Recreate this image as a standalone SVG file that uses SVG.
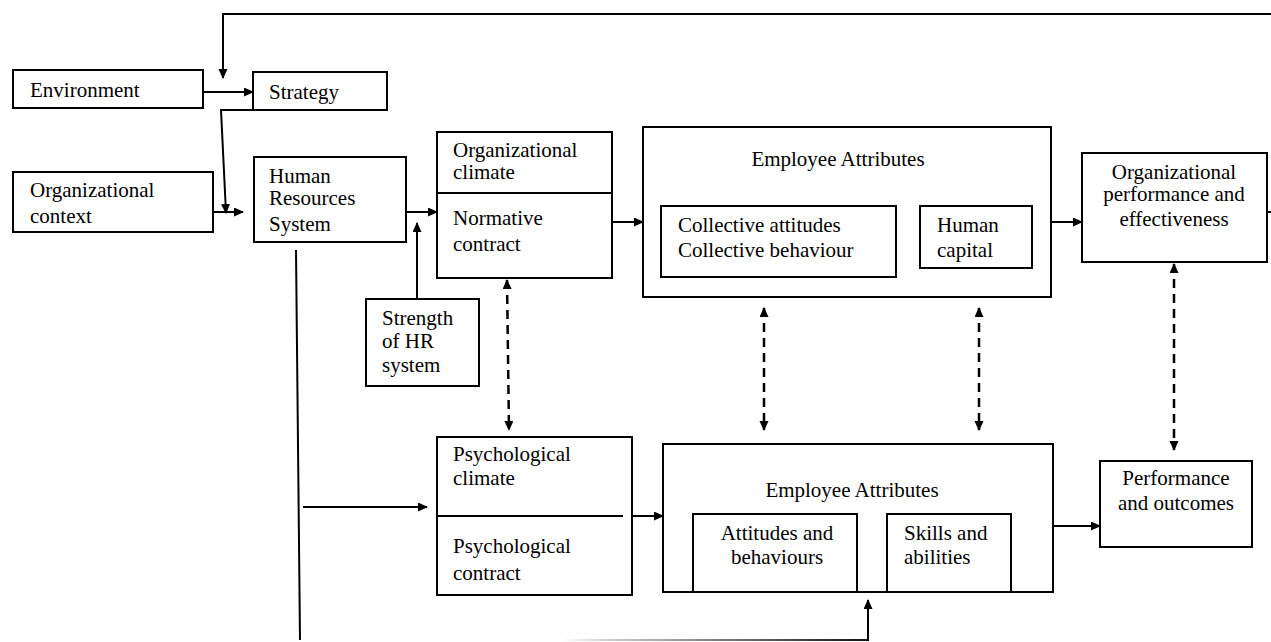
<svg xmlns="http://www.w3.org/2000/svg" width="1271" height="642" viewBox="0 0 1271 642">
  <style>
    .box { fill: #fff; stroke: #000; stroke-width: 2; }
    .t { font-family: "Liberation Serif", "Times New Roman", serif; font-size: 21px; fill: #000; }
    .mid { text-anchor: middle; }
    .ln { fill: none; stroke: #000; stroke-width: 2; }
    .arr { fill: none; stroke: #000; stroke-width: 2; marker-end: url(#head); }
    .dash { fill: none; stroke: #000; stroke-width: 2.5; stroke-dasharray: 9 6; marker-start: url(#head); marker-end: url(#head); }
  </style>
  <defs>
    <marker id="head" markerUnits="userSpaceOnUse" markerWidth="12" markerHeight="10" refX="9" refY="4.5" orient="auto-start-reverse">
      <path d="M0,0 L10,4.5 L0,9 z" fill="#000"/>
    </marker>
    <linearGradient id="fade" gradientUnits="userSpaceOnUse" x1="560" y1="0" x2="868" y2="0">
      <stop offset="0" stop-color="#ffffff"/>
      <stop offset="0.15" stop-color="#cfcfcf"/>
      <stop offset="1" stop-color="#111111"/>
    </linearGradient>
  </defs>
  <rect width="1271" height="642" fill="#fff"/>

  <!-- connectors -->
  <g id="connectors">
    <!-- feedback loop along the top back into strategy -->
    <path class="arr" d="M1271,14 H223 V78"/>
    <path class="ln" d="M1263,212 H1271"/>
    <!-- environment to strategy -->
    <path class="arr" d="M203,92 H253"/>
    <!-- strategy down to HR system -->
    <path class="arr" d="M253,110 H221 L226,213"/>
    <!-- organizational context to HR system -->
    <path class="arr" d="M213,212 H243"/>
    <!-- HR system to organizational climate -->
    <path class="arr" d="M406,212 H437"/>
    <!-- strength of HR system -->
    <path class="arr" d="M417,299 V223"/>
    <!-- climate to collective attributes -->
    <path class="arr" d="M612,222 H643"/>
    <!-- collective attributes to organizational performance -->
    <path class="arr" d="M1051,222 H1082"/>
    <!-- HR system down the left side -->
    <path class="ln" d="M296,250 L300,640"/>
    <path class="arr" d="M303,507 H427"/>
    <!-- psychological climate to individual attributes -->
    <path class="arr" d="M631,516 H663"/>
    <!-- return path under the individual attributes -->
    <path d="M560,640 H868" fill="none" stroke="url(#fade)" stroke-width="2"/>
    <path class="arr" d="M868,641 V600"/>
    <!-- individual attributes to performance -->
    <path class="arr" d="M1053,526 H1100"/>
    <!-- two-way links between levels -->
    <path class="dash" d="M507,280 L509,430"/>
    <path class="dash" d="M764,308 V430"/>
    <path class="dash" d="M979,308 V430"/>
    <path class="dash" d="M1174,264 V450"/>
  </g>

  <g id="environment">
    <rect class="box" x="13" y="70" width="190" height="38"/>
    <text class="t" x="30" y="97">Environment</text>
  </g>

  <g id="strategy">
    <rect class="box" x="253" y="72" width="134" height="38"/>
    <text class="t" x="269" y="99">Strategy</text>
  </g>

  <g id="org-context">
    <rect class="box" x="13" y="172" width="200" height="60"/>
    <text class="t" x="30" y="197">Organizational</text>
    <text class="t" x="30" y="223">context</text>
  </g>

  <g id="hr-system">
    <rect class="box" x="254" y="157" width="152" height="85"/>
    <text class="t" x="269" y="183">Human</text>
    <text class="t" x="269" y="205">Resources</text>
    <text class="t" x="269" y="231">System</text>
  </g>

  <g id="hr-strength">
    <rect class="box" x="366" y="299" width="113" height="87"/>
    <text class="t" x="382" y="325">Strength</text>
    <text class="t" x="382" y="348">of HR</text>
    <text class="t" x="382" y="372">system</text>
  </g>

  <g id="org-climate">
    <rect class="box" x="437" y="132" width="175" height="146"/>
    <line class="ln" x1="437" y1="193" x2="612" y2="193"/>
    <text class="t" x="453" y="157">Organizational</text>
    <text class="t" x="453" y="179">climate</text>
    <text class="t" x="453" y="225">Normative</text>
    <text class="t" x="453" y="251">contract</text>
  </g>

  <g id="collective-attributes">
    <rect class="box" x="643" y="127" width="408" height="170"/>
    <text class="t mid" x="838" y="166">Employee Attributes</text>
    <rect class="box" x="661" y="206" width="235" height="71"/>
    <text class="t" x="678" y="232">Collective attitudes</text>
    <text class="t" x="678" y="257">Collective behaviour</text>
    <rect class="box" x="920" y="206" width="112" height="62"/>
    <text class="t" x="937" y="232">Human</text>
    <text class="t" x="937" y="257">capital</text>
  </g>

  <g id="org-performance">
    <rect class="box" x="1082" y="153" width="185" height="109"/>
    <text class="t mid" x="1174" y="179">Organizational</text>
    <text class="t mid" x="1174" y="201">performance and</text>
    <text class="t mid" x="1174" y="226">effectiveness</text>
  </g>

  <g id="psych-climate">
    <rect class="box" x="437" y="437" width="195" height="158"/>
    <line class="ln" x1="437" y1="516" x2="623" y2="516"/>
    <text class="t" x="453" y="461">Psychological</text>
    <text class="t" x="453" y="485">climate</text>
    <text class="t" x="453" y="553">Psychological</text>
    <text class="t" x="453" y="580">contract</text>
  </g>

  <g id="individual-attributes">
    <rect class="box" x="663" y="444" width="390" height="148"/>
    <text class="t mid" x="852" y="497">Employee Attributes</text>
    <rect class="box" x="693" y="514" width="164" height="78"/>
    <text class="t mid" x="777" y="540">Attitudes and</text>
    <text class="t mid" x="777" y="564">behaviours</text>
    <rect class="box" x="887" y="514" width="124" height="78"/>
    <text class="t" x="904" y="540">Skills and</text>
    <text class="t" x="904" y="564">abilities</text>
  </g>

  <g id="performance">
    <rect class="box" x="1100" y="461" width="152" height="86"/>
    <text class="t mid" x="1176" y="485">Performance</text>
    <text class="t mid" x="1176" y="510">and outcomes</text>
  </g>
</svg>
